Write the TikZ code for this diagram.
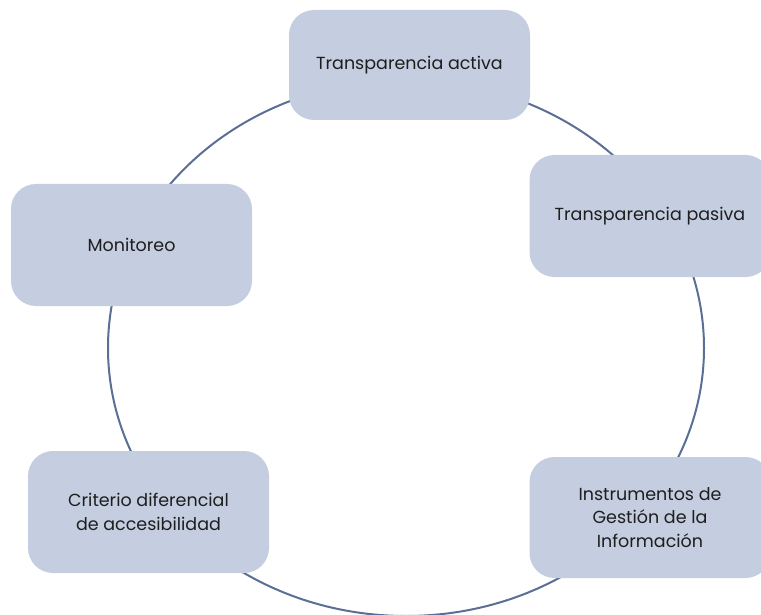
\documentclass[tikz,border=0pt]{standalone}
\usepackage{fontspec}
\setmainfont{Poppins}
\definecolor{boxfill}{HTML}{C4CEE0}
\definecolor{ringcol}{HTML}{5A6E96}
\definecolor{txtcol}{HTML}{1E1E1E}
\tikzset{
  stagebox/.style={draw=none, fill=boxfill, rounded corners=25pt, minimum width=241pt,
    minimum height=122pt, inner sep=0pt, align=center, text=txtcol,
    font=\fontsize{17.5}{23.5}\selectfont},
  ring/.style={draw=ringcol, line width=2pt}
}
\begin{document}
\begin{tikzpicture}[x=1pt,y=-1pt]
\useasboundingbox (0,0) rectangle (761,615);
\clip (0,0) rectangle (761,615);
\coordinate (ctr) at (406,348);
\draw[ring] (ctr) ellipse [x radius=298pt, y radius=268pt];
\node[stagebox, minimum height=110pt] (activa) at (409.5,65) {Transparencia activa};
\node[stagebox] (pasiva) at (650,216) {Transparencia pasiva};
\node[stagebox, minimum height=121pt] (instr) at (650,517.5) {Instrumentos de\\Gestión de la\\Información};
\node[stagebox] (crit) at (148.5,512) {Criterio diferencial\\de accesibilidad};
\node[stagebox] (monit) at (131.5,245) {Monitoreo};
\end{tikzpicture}
\end{document}
